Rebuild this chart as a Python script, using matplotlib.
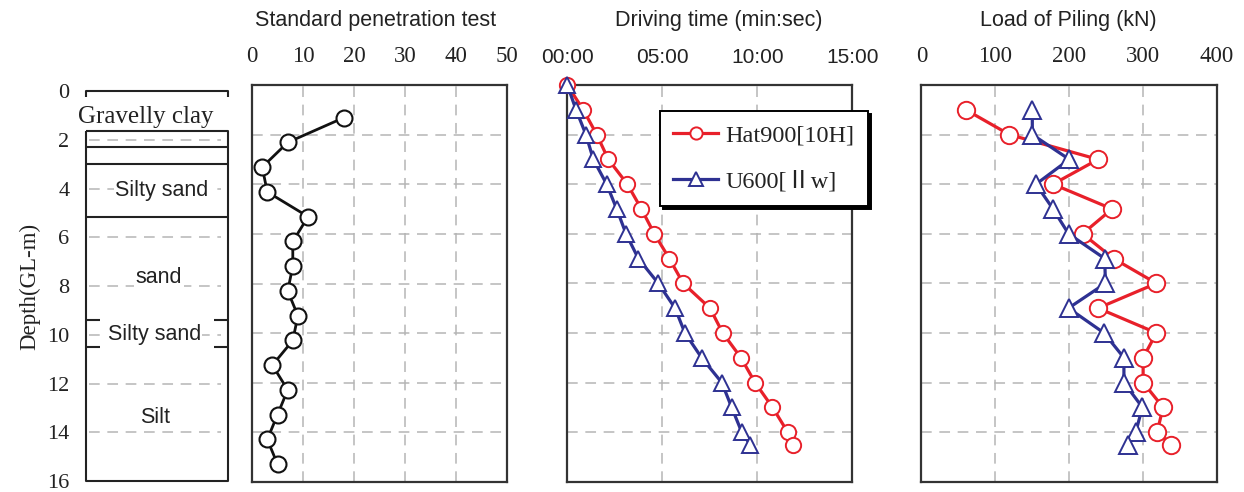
import matplotlib
matplotlib.use("Agg")
import matplotlib.pyplot as plt
from matplotlib.ticker import FuncFormatter

W, H = 1244, 492

# ---------------- data ----------------
spt_depth = [1.3, 2.3, 3.3, 4.3, 5.3, 6.3, 7.3, 8.3, 9.3, 10.3, 11.3, 12.3, 13.3, 14.3, 15.3]
spt_n = [18, 7, 2, 3, 11, 8, 8, 7, 9, 8, 4, 7, 5, 3, 5]

drive_depth = [0, 1, 2, 3, 4, 5, 6, 7, 8, 9, 10, 11, 12, 13, 14, 14.5]
drive_hat = [0, 0.84, 1.55, 2.16, 3.16, 3.9, 4.58, 5.37, 6.1, 7.51, 8.18, 9.14, 9.88, 10.8, 11.6, 11.9]
drive_u = [0, 0.46, 0.98, 1.37, 2.07, 2.6, 3.09, 3.74, 4.79, 5.67, 6.19, 7.07, 8.13, 8.65, 9.18, 9.62]

load_depth = [1, 2, 3, 4, 5, 6, 7, 8, 9, 10, 11, 12, 13, 14, 14.5]
load_hat = [60, 119, 239, 178, 258, 218, 260, 318, 239, 318, 300, 300, 327, 319, 338]
load_u = [150, 150, 200, 155, 178, 199, 248, 249, 199, 247, 274, 274, 299, 290, 280]

layer_lines = [1.63, 2.29, 2.99, 5.17]
bracket_lines = [9.4, 10.5]
layer_names = ["Gravelly clay", "Silty sand", "sand", "Silty sand", "Silt"]
layer_text_depth = [1.05, 4.06, 7.63, 9.98, 13.4]
layer_text_x = [0.42, 0.535, 0.514, 0.48, 0.486]

titles = ["Standard penetration test", "Driving time (min:sec)", "Load of Piling (kN)"]
title_x = [376, 719, 1068]
legend_labels = ["Hat900[10H]", "U600[\u2161w]"]

RED = "#e8202a"
BLUE = "#2e3192"
GRID = "#b5b5b5"
SERIF = ["Liberation Serif", "DejaVu Serif"]
SANS = ["Liberation Sans", "DejaVu Sans"]

fig = plt.figure(figsize=(W / 100, H / 100), dpi=100)


def px_axes(x0, y0, x1, y1):
    return fig.add_axes([x0 / W, 1 - y1 / H, (x1 - x0) / W, (y1 - y0) / H])


def style_panel(ax, xlim, xticks, fmt=None, tick_family=SERIF, tick_size=16.5):
    ax.set_xlim(*xlim)
    ax.set_ylim(16, 0)
    ax.xaxis.tick_top()
    ax.set_xticks(xticks)
    if fmt is not None:
        ax.xaxis.set_major_formatter(FuncFormatter(fmt))
    ax.set_yticks(range(0, 17, 2))
    ax.set_yticklabels([])
    ax.tick_params(axis="both", length=0)
    ax.tick_params(axis="x", pad=13)
    for lab in ax.get_xticklabels():
        lab.set_family(tick_family)
        lab.set_fontsize(tick_size)
        lab.set_color("#222222")
    for s in ax.spines.values():
        s.set_linewidth(1.6)
        s.set_color("#333333")
    for y in range(2, 16, 2):
        ax.axhline(y, color=GRID, lw=1.1, dashes=(7, 5), zorder=0)
    for x in xticks[1:-1]:
        ax.axvline(x, color=GRID, lw=1.1, dashes=(7, 5), zorder=0)


# ---------------- soil column ----------------
axs = px_axes(86, 91.3, 228, 481)
axs.set_xlim(0, 1)
axs.set_ylim(16, 0)
for s in axs.spines.values():
    s.set_visible(False)
axs.set_xticks([])
axs.set_yticks(range(0, 17, 2))
axs.tick_params(axis="y", length=0, pad=12)
for lab in axs.get_yticklabels():
    lab.set_family(SERIF)
    lab.set_fontsize(16)
    lab.set_color("#222222")
axs.set_ylabel("Depth(GL-m)", family=SERIF, fontsize=16.5, color="#222222", labelpad=5)
for y in range(2, 16, 2):
    axs.plot([0.02, 0.95], [y, y], color=GRID, lw=1.1, dashes=(7, 5), zorder=0)
lc = "#222222"
kw = dict(color=lc, lw=1.5, clip_on=False, solid_capstyle="butt")
# top bracket
axs.plot([0, 0, 1, 1], [0.25, 0, 0, 0.25], **kw)
# main box
axs.plot([0, 0, 1, 1, 0], [layer_lines[0], 16, 16, layer_lines[0], layer_lines[0]], **kw)
for d in layer_lines[1:]:
    axs.plot([0, 1], [d, d], **kw)
for d in bracket_lines:
    axs.plot([0, 0.1], [d, d], **kw)
    axs.plot([0.9, 1.0], [d, d], **kw)
for name, d, x in zip(layer_names, layer_text_depth, layer_text_x):
    fam = SERIF if name == "Gravelly clay" else SANS
    fs = 18 if name == "Gravelly clay" else 15.5
    axs.text(x, d, name, ha="center", va="center", family=fam, fontsize=fs, color="#222222",
             bbox=dict(facecolor="white", edgecolor="none", pad=1), zorder=3)

# ---------------- SPT ----------------
ax1 = px_axes(252, 85.5, 507, 481.5)
style_panel(ax1, (0, 50), [0, 10, 20, 30, 40, 50])
ax1.plot(spt_n, spt_depth, color="#111111", lw=2.0, marker="o", ms=11.5,
         mfc="white", mec="#111111", mew=1.5, clip_on=False, zorder=3)

# ---------------- Driving time ----------------
ax2 = px_axes(567.3, 85, 852.3, 481.7)
style_panel(ax2, (0, 15), [0, 5, 10, 15], fmt=lambda v, p: "%02d:00" % int(round(v)),
            tick_family=SANS, tick_size=15)
l1, = ax2.plot(drive_hat, drive_depth, color=RED, lw=2.3, marker="o", ms=11,
               mfc="white", mec=RED, mew=1.4, clip_on=False, zorder=3)
l2, = ax2.plot(drive_u, drive_depth, color=BLUE, lw=2.3, marker="^", ms=12,
               mfc="white", mec=BLUE, mew=1.4, clip_on=False, zorder=4)
leg = ax2.legend([l1, l2], legend_labels, loc="upper left",
                 bbox_to_anchor=(660 / W, 1 - 111 / H), bbox_transform=fig.transFigure,
                 borderaxespad=0, fancybox=False, frameon=True, markerscale=0.8,
                 handlelength=1.85, handletextpad=0.3, labelspacing=1.0,
                 borderpad=0.55, prop=dict(family=["Liberation Serif", "Noto Sans CJK JP"], size=17.5),
                 shadow=dict(color="black", alpha=1.0))
leg.get_frame().set_edgecolor("black")
leg.get_frame().set_linewidth(1.4)
leg.set_zorder(10)
for t in leg.get_texts():
    t.set_color("#222222")

# ---------------- Load ----------------
ax3 = px_axes(921.5, 85, 1217, 481.7)
style_panel(ax3, (0, 400), [0, 100, 200, 300, 400])
ax3.plot(load_hat, load_depth, color=RED, lw=2.3, marker="o", ms=12.5,
         mfc="white", mec=RED, mew=1.4, clip_on=False, zorder=3)
ax3.plot(load_u, load_depth, color=BLUE, lw=2.3, marker="^", ms=12.5,
         mfc="white", mec=BLUE, mew=1.4, clip_on=False, zorder=4)

# ---------------- titles ----------------
for t, x in zip(titles, title_x):
    fig.text(x / W, 1 - 26 / H, t, ha="center", va="baseline", family=SANS,
             fontsize=15.5, color="#222222")

fig.savefig("out.png", dpi=100)
